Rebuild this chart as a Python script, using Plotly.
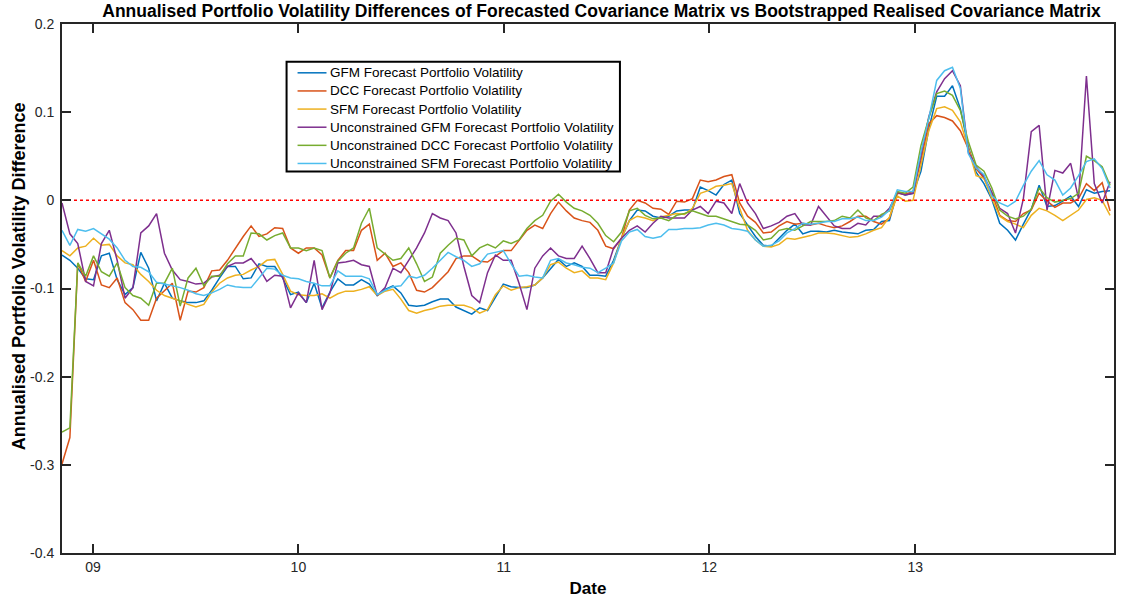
import pandas as pd
import plotly.graph_objects as go

# Fortnightly observation dates
dates = pd.date_range("2008-11-07", periods=134, freq="14D")

gfm = [-0.062, -0.068, -0.077, -0.089, -0.090, -0.063, -0.060, -0.090, -0.107, -0.099,
       -0.059, -0.077, -0.114, -0.094, -0.111, -0.114, -0.116, -0.116, -0.114, -0.102,
       -0.088, -0.075, -0.075, -0.089, -0.088, -0.072, -0.075, -0.075, -0.088, -0.107,
       -0.104, -0.116, -0.094, -0.122, -0.104, -0.089, -0.096, -0.096, -0.090, -0.095,
       -0.108, -0.101, -0.097, -0.105, -0.119, -0.120, -0.119, -0.115, -0.112, -0.112,
       -0.121, -0.125, -0.129, -0.122, -0.125, -0.110, -0.095, -0.098, -0.099, -0.099,
       -0.096, -0.088, -0.077, -0.067, -0.075, -0.071, -0.075, -0.085, -0.085, -0.086,
       -0.068, -0.043, -0.023, -0.011, -0.012, -0.018, -0.020, -0.018, -0.012, -0.011,
       -0.011, 0.015, 0.011, 0.006, 0.018, 0.023, -0.015, -0.028, -0.041, -0.051,
       -0.052, -0.043, -0.034, -0.027, -0.038, -0.035, -0.035, -0.036, -0.034, -0.036,
       -0.037, -0.038, -0.034, -0.033, -0.024, -0.023, 0.009, 0.006, 0.008, 0.033,
       0.081, 0.118, 0.118, 0.130, 0.104, 0.061, 0.032, 0.019, 0.001, -0.026,
       -0.034, -0.045, -0.027, -0.010, 0.017, -0.007, -0.006, -0.001, 0.005, -0.007,
       0.012, 0.008, 0.010, 0.011]

dcc = [-0.299, -0.269, -0.071, -0.092, -0.068, -0.096, -0.099, -0.088, -0.116, -0.124,
       -0.136, -0.136, -0.111, -0.102, -0.094, -0.136, -0.103, -0.104, -0.099, -0.080,
       -0.079, -0.068, -0.054, -0.041, -0.029, -0.041, -0.038, -0.031, -0.032, -0.054,
       -0.060, -0.054, -0.054, -0.062, -0.088, -0.068, -0.057, -0.057, -0.034, -0.027,
       -0.068, -0.060, -0.075, -0.071, -0.082, -0.102, -0.104, -0.099, -0.090, -0.081,
       -0.066, -0.063, -0.063, -0.069, -0.070, -0.064, -0.057, -0.057, -0.045, -0.034,
       -0.028, -0.032, -0.015, -0.002, -0.012, -0.020, -0.023, -0.025, -0.034, -0.052,
       -0.055, -0.043, -0.011, 0.000, -0.003, -0.009, -0.010, -0.016, -0.001, -0.002,
       0.002, 0.023, 0.021, 0.023, 0.027, 0.029, -0.003, -0.018, -0.025, -0.037,
       -0.036, -0.029, -0.024, -0.027, -0.026, -0.028, -0.026, -0.029, -0.031, -0.029,
       -0.024, -0.018, -0.018, -0.024, -0.027, -0.020, 0.008, 0.007, 0.010, 0.045,
       0.087, 0.096, 0.094, 0.090, 0.079, 0.059, 0.036, 0.025, 0.008, -0.017,
       -0.023, -0.024, -0.015, -0.011, 0.008, -0.001, -0.008, -0.003, -0.003, 0.002,
       0.019, 0.011, 0.020, -0.012]

sfm = [-0.057, -0.063, -0.054, -0.052, -0.043, -0.051, -0.050, -0.063, -0.071, -0.073,
       -0.084, -0.092, -0.102, -0.108, -0.111, -0.114, -0.118, -0.121, -0.118, -0.104,
       -0.094, -0.088, -0.085, -0.084, -0.079, -0.075, -0.068, -0.067, -0.084, -0.103,
       -0.107, -0.108, -0.108, -0.106, -0.111, -0.106, -0.103, -0.103, -0.101, -0.098,
       -0.108, -0.103, -0.101, -0.112, -0.125, -0.128, -0.125, -0.123, -0.120, -0.119,
       -0.119, -0.119, -0.122, -0.128, -0.124, -0.107, -0.097, -0.102, -0.099, -0.098,
       -0.096, -0.088, -0.073, -0.070, -0.077, -0.082, -0.080, -0.088, -0.088, -0.090,
       -0.071, -0.043, -0.023, -0.018, -0.020, -0.023, -0.019, -0.017, -0.015, -0.016,
       -0.009, 0.008, 0.011, 0.016, 0.017, 0.019, -0.009, -0.034, -0.045, -0.052,
       -0.053, -0.050, -0.043, -0.044, -0.042, -0.040, -0.037, -0.037, -0.038, -0.040,
       -0.042, -0.041, -0.038, -0.034, -0.031, -0.019, 0.005, -0.001, 0.000, 0.040,
       0.079, 0.104, 0.106, 0.102, 0.089, 0.059, 0.028, 0.025, 0.002, -0.018,
       -0.024, -0.027, -0.031, -0.017, -0.009, -0.012, -0.017, -0.023, -0.017, -0.011,
       0.001, 0.003, 0.000, -0.017]

ugfm = [-0.003, -0.038, -0.049, -0.092, -0.097, -0.049, -0.034, -0.068, -0.111, -0.099,
        -0.037, -0.029, -0.015, -0.060, -0.079, -0.090, -0.092, -0.095, -0.094, -0.087,
        -0.085, -0.075, -0.071, -0.071, -0.066, -0.077, -0.092, -0.085, -0.086, -0.122,
        -0.105, -0.116, -0.068, -0.124, -0.105, -0.071, -0.070, -0.068, -0.073, -0.075,
        -0.108, -0.099, -0.077, -0.082, -0.068, -0.054, -0.037, -0.015, -0.020, -0.023,
        -0.037, -0.075, -0.108, -0.116, -0.082, -0.062, -0.068, -0.068, -0.094, -0.124,
        -0.077, -0.063, -0.054, -0.063, -0.066, -0.066, -0.052, -0.066, -0.082, -0.082,
        -0.054, -0.043, -0.034, -0.029, -0.036, -0.026, -0.018, -0.020, -0.020, -0.020,
        -0.011, -0.007, -0.015, -0.001, -0.003, -0.015, 0.019, -0.003, -0.015, -0.032,
        -0.029, -0.025, -0.018, -0.015, -0.028, -0.028, -0.007, -0.018, -0.029, -0.032,
        -0.032, -0.026, -0.028, -0.018, -0.018, -0.009, 0.009, 0.006, 0.008, 0.051,
        0.095, 0.123, 0.138, 0.147, 0.130, 0.055, 0.038, 0.027, 0.008, -0.009,
        -0.015, -0.037, 0.002, 0.078, 0.085, -0.011, 0.034, 0.031, 0.042, 0.002,
        0.141, 0.019, -0.003, 0.021]

udcc = [-0.263, -0.258, -0.071, -0.086, -0.063, -0.081, -0.086, -0.071, -0.099, -0.108,
        -0.111, -0.119, -0.094, -0.094, -0.077, -0.120, -0.088, -0.077, -0.097, -0.086,
        -0.086, -0.072, -0.063, -0.063, -0.037, -0.038, -0.045, -0.040, -0.037, -0.054,
        -0.054, -0.057, -0.054, -0.057, -0.088, -0.069, -0.060, -0.054, -0.026, -0.009,
        -0.054, -0.061, -0.068, -0.066, -0.054, -0.072, -0.092, -0.087, -0.060, -0.051,
        -0.043, -0.045, -0.063, -0.054, -0.050, -0.054, -0.046, -0.049, -0.045, -0.032,
        -0.023, -0.017, -0.001, 0.007, -0.002, -0.009, -0.012, -0.017, -0.026, -0.040,
        -0.047, -0.036, -0.012, -0.009, -0.017, -0.021, -0.020, -0.023, -0.017, -0.015,
        -0.012, -0.015, -0.018, -0.018, -0.021, -0.024, -0.027, -0.028, -0.034, -0.045,
        -0.043, -0.034, -0.032, -0.034, -0.029, -0.024, -0.024, -0.024, -0.023, -0.018,
        -0.020, -0.011, -0.020, -0.023, -0.016, -0.012, 0.010, 0.008, 0.015, 0.062,
        0.093, 0.121, 0.124, 0.119, 0.102, 0.067, 0.040, 0.033, 0.014, -0.011,
        -0.018, -0.021, -0.018, -0.010, 0.014, 0.003, -0.002, 0.000, 0.002, 0.008,
        0.050, 0.045, 0.038, 0.017]

usfm = [-0.034, -0.051, -0.033, -0.035, -0.032, -0.038, -0.044, -0.054, -0.068, -0.075,
        -0.076, -0.081, -0.093, -0.095, -0.097, -0.099, -0.102, -0.106, -0.108, -0.105,
        -0.101, -0.096, -0.098, -0.099, -0.099, -0.088, -0.077, -0.078, -0.085, -0.088,
        -0.089, -0.092, -0.094, -0.097, -0.097, -0.080, -0.086, -0.086, -0.086, -0.089,
        -0.107, -0.102, -0.098, -0.097, -0.086, -0.088, -0.085, -0.077, -0.068, -0.059,
        -0.064, -0.068, -0.075, -0.072, -0.061, -0.059, -0.057, -0.072, -0.086, -0.085,
        -0.087, -0.088, -0.068, -0.066, -0.071, -0.073, -0.076, -0.077, -0.082, -0.077,
        -0.071, -0.046, -0.036, -0.033, -0.041, -0.043, -0.041, -0.033, -0.033, -0.032,
        -0.032, -0.031, -0.028, -0.026, -0.028, -0.032, -0.033, -0.035, -0.045, -0.052,
        -0.051, -0.046, -0.037, -0.032, -0.026, -0.027, -0.026, -0.024, -0.024, -0.021,
        -0.021, -0.019, -0.023, -0.023, -0.019, -0.011, 0.012, 0.010, 0.010, 0.055,
        0.093, 0.136, 0.147, 0.151, 0.127, 0.053, 0.037, 0.029, 0.005, -0.003,
        -0.007, -0.001, 0.017, 0.033, 0.045, 0.029, 0.023, 0.006, 0.014, 0.028,
        0.044, 0.047, 0.036, 0.014]

names = [
    "GFM Forecast Portfolio Volatility",
    "DCC Forecast Portfolio Volatility",
    "SFM Forecast Portfolio Volatility",
    "Unconstrained GFM Forecast Portfolio Volatility",
    "Unconstrained DCC Forecast Portfolio Volatility",
    "Unconstrained SFM Forecast Portfolio Volatility",
]
values = [gfm, dcc, sfm, ugfm, udcc, usfm]
colors = ["#0072BD", "#D95319", "#EDB120", "#7E2F8E", "#77AC30", "#4DBEEE"]

y_ticks = [-0.4, -0.3, -0.2, -0.1, 0, 0.1, 0.2]
y_labels = ["-0.4", "-0.3", "-0.2", "-0.1", "0", "0.1", "0.2"]
x_ticks = ["2009-01-01", "2010-01-01", "2011-01-01", "2012-01-01", "2013-01-01"]
x_labels = ["09", "10", "11", "12", "13"]

FONT = "Liberation Sans, Arial, Helvetica, sans-serif"
AXIS = "#262626"

W, H = 1121, 600
ML, MR, MT, MB = 62, 5, 24, 45
PW, PH = W - ML - MR, H - MT - MB


def px(xp):
    """page x pixel -> paper fraction"""
    return (xp - ML) / PW


def py(yp):
    """page y pixel -> paper fraction"""
    return (H - MB - yp) / PH


fig = go.Figure()
for name, vals, color in zip(names, values, colors):
    fig.add_trace(go.Scatter(x=dates, y=vals, mode="lines", name=name,
                             line=dict(color=color, width=1.5)))

# zero reference line
fig.add_trace(go.Scatter(x=[dates[0], pd.Timestamp("2013-12-20")], y=[0, 0],
                         mode="lines", showlegend=False, hoverinfo="skip",
                         line=dict(color="#FF0000", width=1.5, dash="dot")))

# boxed legend
shapes = [dict(type="rect", xref="paper", yref="paper",
               x0=px(287), x1=px(621), y0=py(172), y1=py(62),
               line=dict(color="black", width=2), fillcolor="white", layer="above")]
annotations = []
for k, (name, color) in enumerate(zip(names, colors)):
    yc = py(73 + 18.2 * k)
    shapes.append(dict(type="line", xref="paper", yref="paper",
                       x0=px(298), x1=px(327), y0=yc, y1=yc,
                       line=dict(color=color, width=1.5), layer="above"))
    annotations.append(dict(text=name, xref="paper", yref="paper",
                            x=px(329), y=yc, xanchor="left", yanchor="middle",
                            showarrow=False,
                            font=dict(family=FONT, size=13.5, color="black")))

# y-axis label
annotations.append(dict(text="<b>Annualised Portfolio Volatility Difference</b>",
                        xref="paper", yref="paper", x=px(19), y=py(277),
                        xanchor="center", yanchor="middle", textangle=-90,
                        showarrow=False,
                        font=dict(family=FONT, size=18, color="black")))

fig.update_layout(
    width=W, height=H,
    margin=dict(l=ML, r=MR, t=MT, b=MB),
    paper_bgcolor="white", plot_bgcolor="white",
    font=dict(family=FONT, size=12, color=AXIS),
    title=dict(text="<b>Annualised Portfolio Volatility Differences of Forecasted Covariance Matrix vs Bootstrapped Realised Covariance Matrix</b>",
               x=0.5366, xanchor="center", y=0.982, yanchor="middle",
               font=dict(family=FONT, size=17.5, color="black")),
    showlegend=False,
    shapes=shapes,
    annotations=annotations,
)
fig.update_xaxes(
    range=["2008-11-07", "2013-12-20"],
    tickvals=x_ticks, ticktext=x_labels,
    ticks="inside", ticklen=9, tickwidth=1.5, tickcolor=AXIS,
    showline=True, linecolor=AXIS, linewidth=2, mirror="ticks",
    showgrid=False, zeroline=False,
    tickfont=dict(size=14, color=AXIS),
    title=dict(text="<b>Date</b>", font=dict(size=17, color="black"), standoff=8),
)
fig.update_yaxes(
    range=[-0.4, 0.2],
    tickvals=y_ticks, ticktext=y_labels,
    ticks="inside", ticklen=9, tickwidth=1.5, tickcolor=AXIS,
    showline=True, linecolor=AXIS, linewidth=2, mirror="ticks",
    showgrid=False, zeroline=False,
    tickfont=dict(size=14, color=AXIS), ticklabelstandoff=3,
)

fig.write_html("out.html")
